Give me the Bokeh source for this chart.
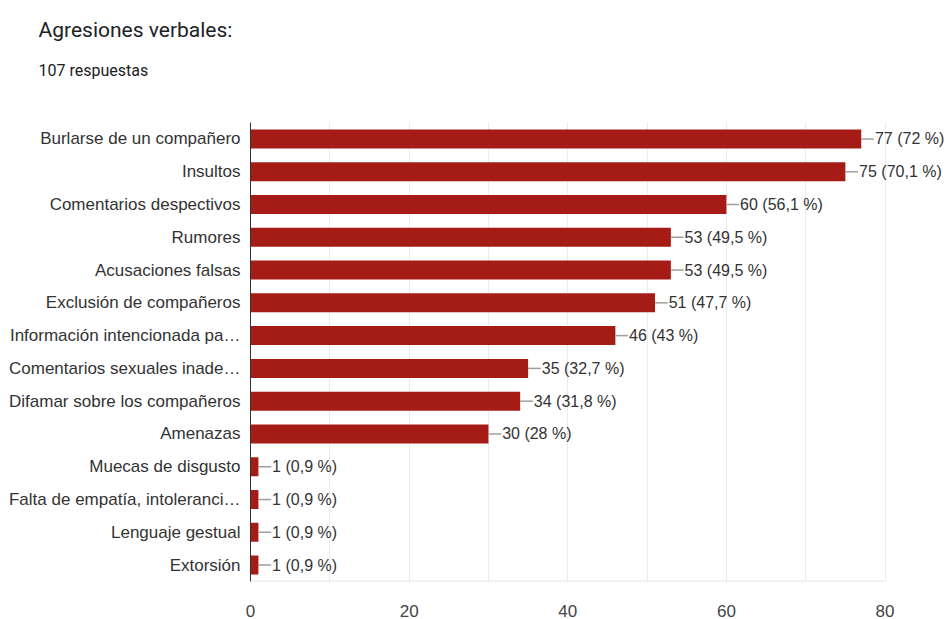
from bokeh.plotting import figure
from bokeh.models import ColumnDataSource, LabelSet, Title, FixedTicker, Range1d
from bokeh.core.properties import value
from bokeh.embed import file_html
from bokeh.resources import INLINE

categories = ["Burlarse de un compañero", "Insultos", "Comentarios despectivos", "Rumores",
              "Acusaciones falsas", "Exclusión de compañeros", "Información intencionada pa…",
              "Comentarios sexuales inade…", "Difamar sobre los compañeros", "Amenazas",
              "Muecas de disgusto", "Falta de empatía, intoleranci…", "Lenguaje gestual", "Extorsión"]
counts = [77, 75, 60, 53, 53, 51, 46, 35, 34, 30, 1, 1, 1, 1]
percents = ["72", "70,1", "56,1", "49,5", "49,5", "47,7", "43", "32,7", "31,8", "28",
            "0,9", "0,9", "0,9", "0,9"]
x_ticks = [0, 20, 40, 60, 80]
x_minor = [10, 30, 50, 70]

n = len(categories)
ypos = [n - 1 - i for i in range(n)]
labels = [f"{c} ({p} %)" for c, p in zip(counts, percents)]
conn_len = 1.6
src = ColumnDataSource(dict(y=ypos, n=counts, lab=labels,
                            x1=[c + conn_len for c in counts]))

p = figure(width=948, height=619, output_backend="svg", toolbar_location=None,
           y_range=Range1d(-0.5, n - 0.5), x_range=Range1d(0, 88),
           min_border_left=250, min_border_right=0,
           min_border_top=122, min_border_bottom=38)

p.hbar(y="y", right="n", left=0, height=0.58, source=src, color="#a51c17", line_color=None)
p.segment(x0="n", x1="x1", y0="y", y1="y", source=src, line_color="#9e9e9e", line_width=1.5)
p.add_layout(LabelSet(x="x1", y="y", text="lab", source=src, text_baseline="middle",
                      text_align="left", x_offset=1, text_font=value("Liberation Sans"),
                      text_font_size="16px", text_color="#333333"))
# bottom border of the plotting area (0 .. last tick)
p.segment(x0=[x_ticks[0]], x1=[x_ticks[-1]], y0=[-0.5], y1=[-0.5], line_color="#e0e0e0", line_width=1.5)

p.add_layout(Title(text="107 respuestas", align="left", offset=-212, text_font="Roboto",
                   text_font_size="16px", text_font_style="normal", text_color="#202124",
                   standoff=86), "above")
p.add_layout(Title(text="Agresiones verbales:", align="left", offset=-212, text_font="Roboto",
                   text_font_size="21px", text_font_style="normal", text_color="#202124",
                   standoff=-52), "above")

p.xaxis.ticker = FixedTicker(ticks=x_ticks, minor_ticks=x_minor)
p.xgrid.ticker = p.xaxis.ticker
p.xgrid.grid_line_color = "#ebebeb"
p.xgrid.minor_grid_line_color = "#ebebeb"
p.ygrid.grid_line_color = None
p.xaxis.axis_line_color = None
p.xaxis.major_tick_line_color = None
p.xaxis.minor_tick_line_color = None
p.xaxis.major_label_text_font = "Liberation Sans"
p.xaxis.major_label_text_font_size = "17px"
p.xaxis.major_label_text_color = "#444444"
p.xaxis.major_label_standoff = 17

p.yaxis.ticker = FixedTicker(ticks=ypos)
p.yaxis.major_label_overrides = {y: c for y, c in zip(ypos, categories)}
p.yaxis.axis_line_color = "#333333"
p.yaxis.major_tick_line_color = None
p.yaxis.minor_tick_line_color = None
p.yaxis.major_label_text_font = "Liberation Sans"
p.yaxis.major_label_text_font_size = "17px"
p.yaxis.major_label_text_color = "#333333"
p.yaxis.major_label_standoff = 4
p.outline_line_color = None

open("out.html", "w").write(file_html(p, INLINE))
